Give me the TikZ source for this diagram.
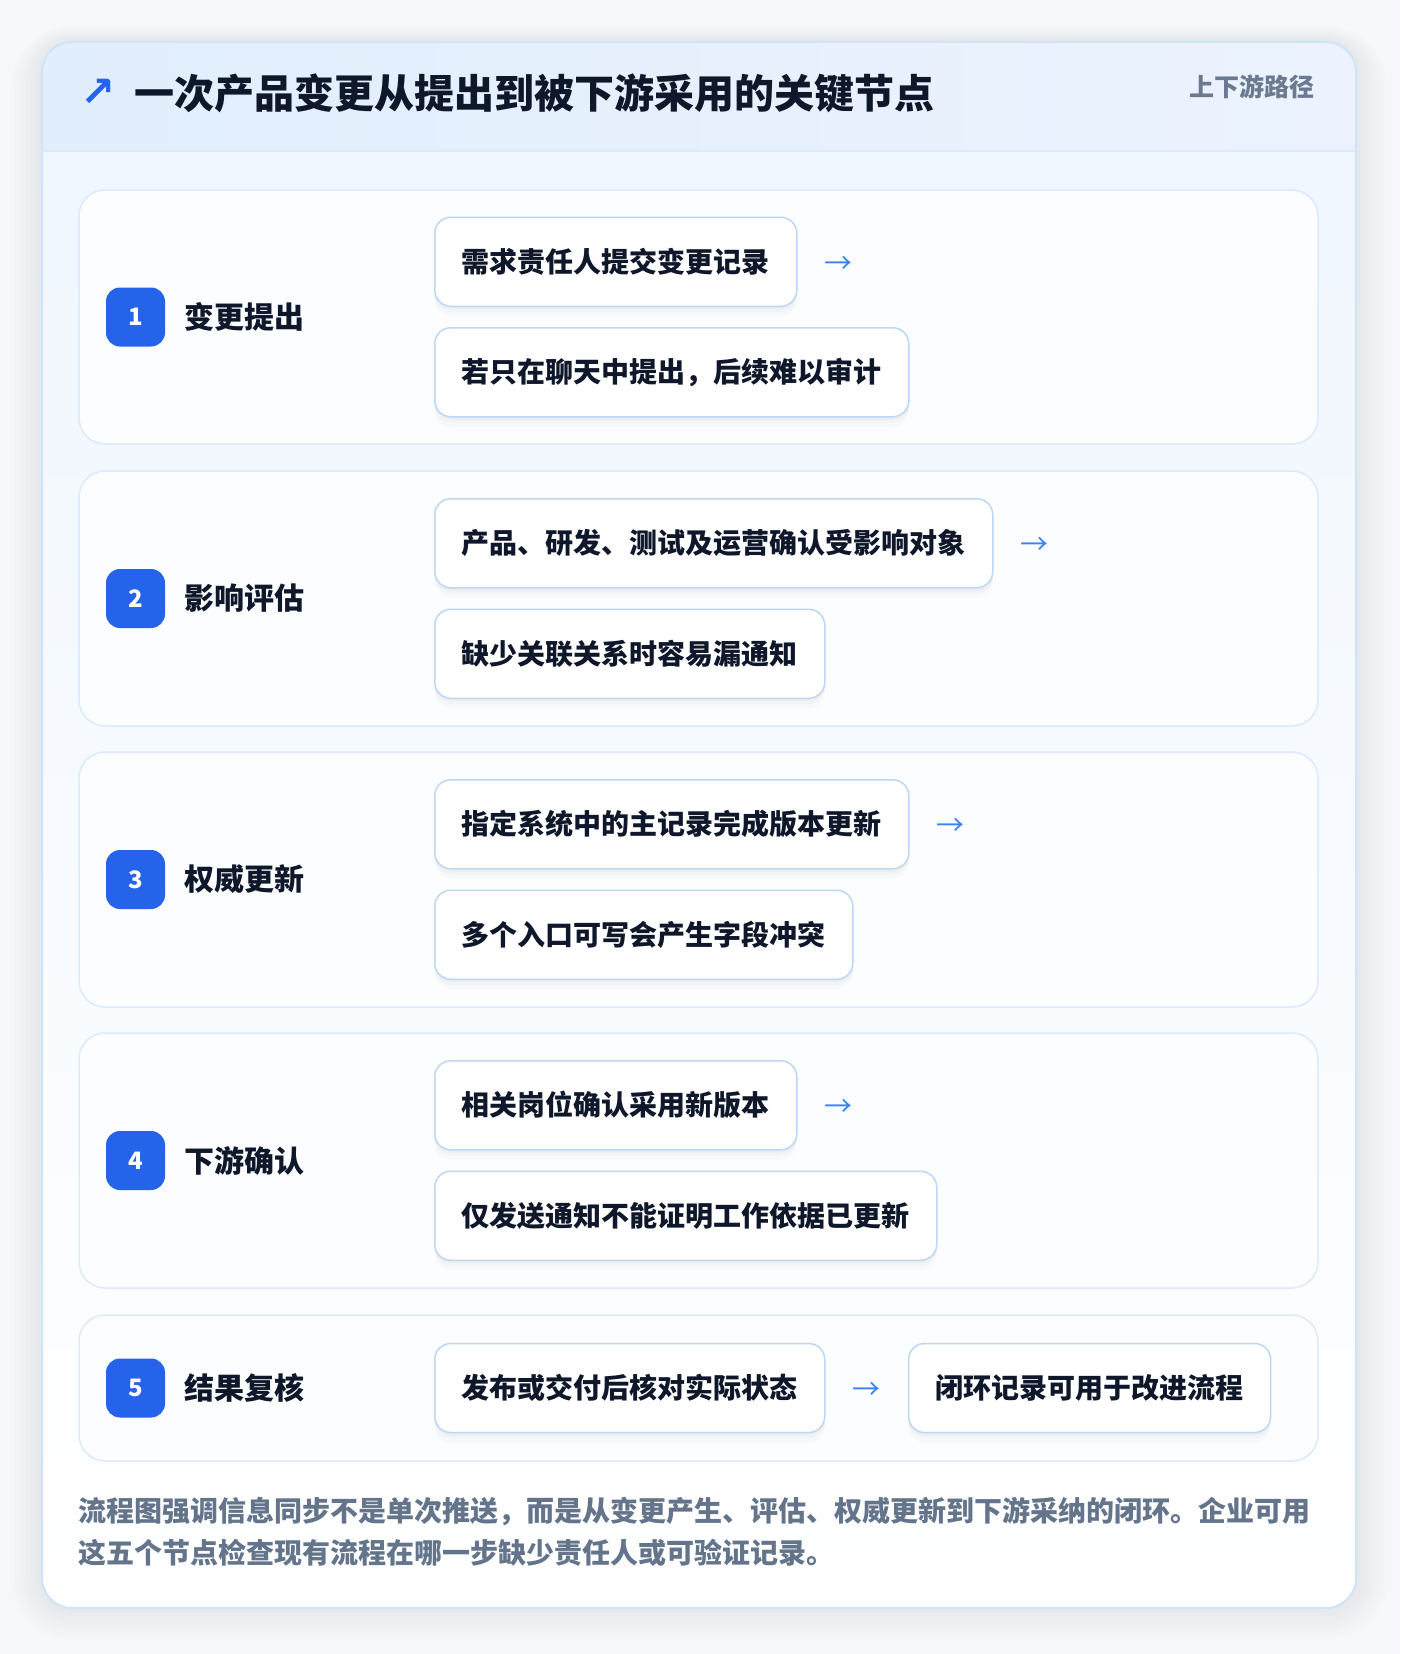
\documentclass[tikz,border=0pt]{standalone}
\usepackage{fontspec}
\setmainfont{Noto Sans CJK SC}
\newfontfamily\symfont{DejaVu Sans}
\usetikzlibrary{positioning, shadows}

\definecolor{pagebg}{HTML}{F6F8FB}
\definecolor{cardline}{HTML}{CFE4F8}
\definecolor{headleft}{HTML}{E1EEFC}
\definecolor{headright}{HTML}{ECF3FE}
\definecolor{bodytop}{HTML}{EFF6FE}
\definecolor{stepline}{HTML}{DBEAFE}
\definecolor{stepfill}{HTML}{FBFDFF}
\definecolor{boxline}{HTML}{BDD7F6}
\definecolor{badgeblue}{HTML}{2563EB}
\definecolor{arrowblue}{HTML}{3B82F6}
\definecolor{ink}{HTML}{0F172A}
\definecolor{taggray}{HTML}{6B7A90}
\definecolor{notegray}{HTML}{64748B}

\tikzset{
  stepcard/.style={draw=stepline, line width=1.5pt, fill=stepfill, rounded corners=26pt},
  badge/.style={fill=badgeblue, text=white, rounded corners=14pt, minimum size=59pt,
    inner sep=0pt, font=\fontsize{24}{24}\selectfont\bfseries},
  steplabel/.style={text=ink, inner sep=0pt, font=\fontsize{30}{30}\selectfont\bfseries},
  itembox/.style={draw=boxline, line width=1.5pt, fill=white, rounded corners=16pt,
    minimum height=89pt, inner xsep=27pt, inner ysep=0pt, text=ink,
    font=\fontsize{28}{28}\selectfont\bfseries,
    general shadow={fill=black, opacity=0.025, shadow yshift=-3pt},
    general shadow={fill=black, opacity=0.02, shadow yshift=-6pt},
    general shadow={fill=black, opacity=0.015, shadow yshift=-10pt}},
  flowarrow/.style={text=arrowblue, inner sep=0pt, yshift=-3pt, font=\fontsize{28}{28}\selectfont},
}

\begin{document}
\begin{tikzpicture}[x=1pt, y=-1pt]
    \useasboundingbox (0,0) rectangle (1400,1654);
    \fill[pagebg] (0,0) rectangle (1400,1654);

    % soft shadow of the outer card
    \foreach \s in {4,8,...,32}
        \fill[black, opacity=0.008, rounded corners=30pt+\s]
          (42-\s,42-\s/2) rectangle (1356+\s,1608+\s);

    % outer card with header band
    \shade[top color=bodytop, bottom color=white, rounded corners=30pt] (42,42) rectangle (1356,1608);
    \begin{scope}
        \clip[rounded corners=30pt] (42,42) rectangle (1356,1608);
        \shade[left color=headleft, right color=headright] (42,42) rectangle (1356,151);
    \end{scope}
    \draw[stepline, line width=1.5pt] (42,151) -- (1356,151);
    \draw[cardline, line width=2pt, rounded corners=30pt] (42,42) rectangle (1356,1608);

    \node[text=badgeblue, inner sep=0pt, font=\symfont\fontsize{42}{42}\selectfont\bfseries] (titlearrow) at (98,93) {↗};
    \node[anchor=west, inner sep=0pt, text=ink, font=\fontsize{40}{40}\selectfont\bfseries] (title) at (134,93)
      {一次产品变更从提出到被下游采用的关键节点};
    \node[anchor=east, inner sep=0pt, text=taggray, font=\fontsize{25}{25}\selectfont\bfseries] (tag) at (1315,87)
      {上下游路径};

    % Step 1
    \draw[stepcard] (79,190) rectangle (1318,444);
    \node[badge] (badge1) at (135.5,317) {1};
    \node[steplabel, right=19pt of badge1] (label1) {变更提出};
    \node[itembox, anchor=south west] (item1a) at (434,307) {需求责任人提交变更记录};
    \node[flowarrow, right=27pt of item1a] (arrow1) {→};
    \node[itembox, below=20pt of item1a.south west, anchor=north west] (item1b) {若只在聊天中提出，后续难以审计};

    % Step 2
    \draw[stepcard] (79,471) rectangle (1318,726);
    \node[badge] (badge2) at (135.5,598.5) {2};
    \node[steplabel, right=19pt of badge2] (label2) {影响评估};
    \node[itembox, anchor=south west] (item2a) at (434,588.5) {产品、研发、测试及运营确认受影响对象};
    \node[flowarrow, right=27pt of item2a] (arrow2) {→};
    \node[itembox, below=20pt of item2a.south west, anchor=north west] (item2b) {缺少关联关系时容易漏通知};

    % Step 3
    \draw[stepcard] (79,752) rectangle (1318,1007);
    \node[badge] (badge3) at (135.5,879.5) {3};
    \node[steplabel, right=19pt of badge3] (label3) {权威更新};
    \node[itembox, anchor=south west] (item3a) at (434,869.5) {指定系统中的主记录完成版本更新};
    \node[flowarrow, right=27pt of item3a] (arrow3) {→};
    \node[itembox, below=20pt of item3a.south west, anchor=north west] (item3b) {多个入口可写会产生字段冲突};

    % Step 4
    \draw[stepcard] (79,1033) rectangle (1318,1288);
    \node[badge] (badge4) at (135.5,1160.5) {4};
    \node[steplabel, right=19pt of badge4] (label4) {下游确认};
    \node[itembox, anchor=south west] (item4a) at (434,1150.5) {相关岗位确认采用新版本};
    \node[flowarrow, right=27pt of item4a] (arrow4) {→};
    \node[itembox, below=20pt of item4a.south west, anchor=north west] (item4b) {仅发送通知不能证明工作依据已更新};

    % Step 5 - single row
    \draw[stepcard] (79,1315) rectangle (1318,1461);
    \node[badge] (badge5) at (135.5,1388) {5};
    \node[steplabel, right=19pt of badge5] (label5) {结果复核};
    \node[itembox, anchor=west] (item5a) at (434,1388) {发布或交付后核对实际状态};
    \node[flowarrow, right=27pt of item5a] (arrow5) {→};
    \node[itembox, anchor=west] (item5b) at ([xshift=27pt]arrow5.east |- item5a.east) {闭环记录可用于改进流程};

    % closing note
    \node[anchor=north west, align=left, inner sep=0pt, text=notegray,
      font=\fontsize{28}{42}\selectfont\bfseries] (note) at (78,1497)
      {流程图强调信息同步不是单次推送，而是从变更产生、评估、权威更新到下游采纳的闭环。企业可用\\
       这五个节点检查现有流程在哪一步缺少责任人或可验证记录。};
\end{tikzpicture}
\end{document}
